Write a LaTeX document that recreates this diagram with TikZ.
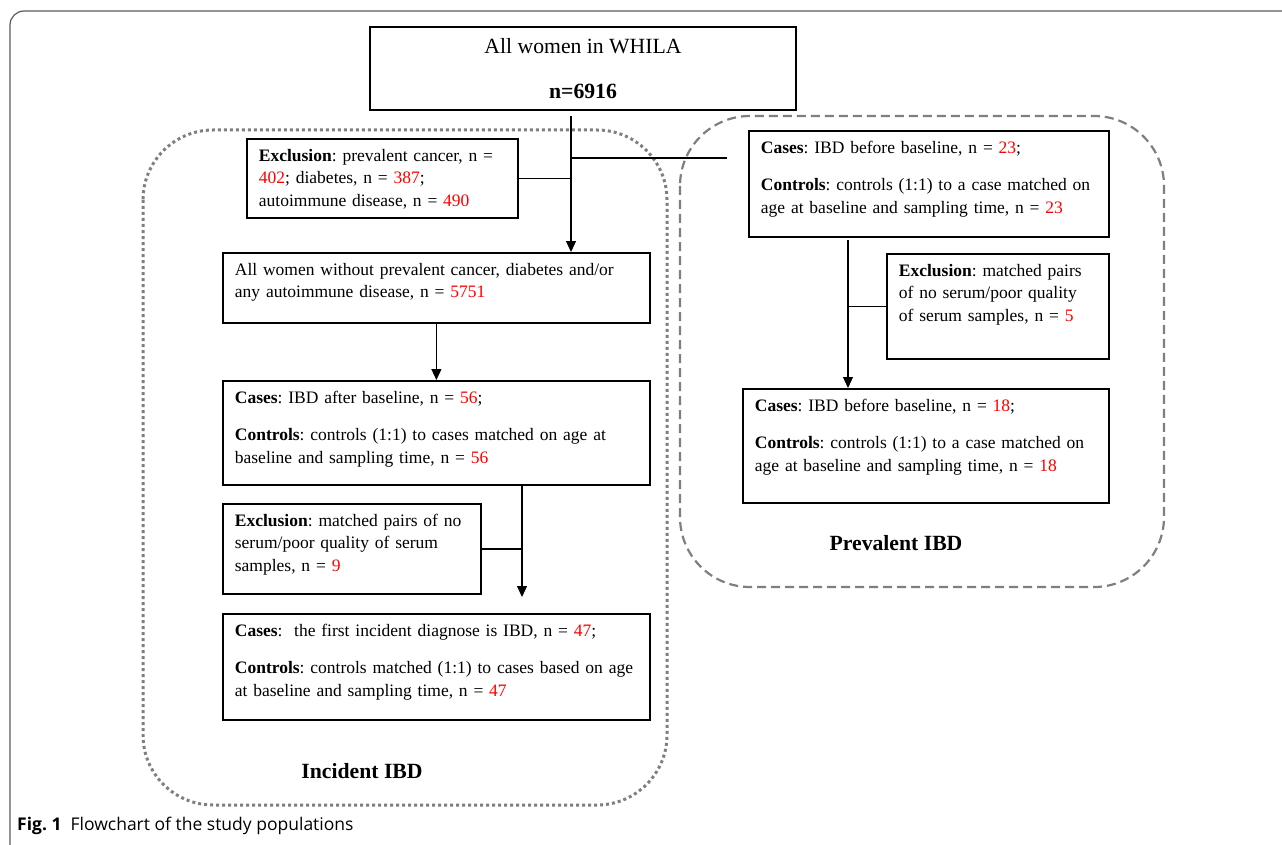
\documentclass[tikz,border=0pt]{standalone}
\usepackage{fontspec}
\setmainfont{Liberation Serif}
\newfontfamily\captionfont{Open Sans}
\usetikzlibrary{positioning, arrows.meta}
\definecolor{FrameGray}{HTML}{5A5A5A}
\definecolor{GroupGray}{HTML}{7F7F7F}
\definecolor{CountRed}{HTML}{FF0000}
\newcommand{\cnt}[1]{\textcolor{CountRed}{#1}}
\frenchspacing

\begin{document}
\begin{tikzpicture}[x=1pt, y=-1pt,
    box/.style={draw, line width=1.8pt, anchor=north west, align=left,
      inner xsep=12pt, inner ysep=10pt, font=\fontsize{17.5}{22.5}\selectfont},
    flow/.style={line width=1.2pt},
    arrow/.style={flow, -{Triangle[length=11pt, width=10pt]}},
    group/.style={GroupGray, rounded corners=70pt},
    grouplabel/.style={font=\fontsize{21.7}{26}\selectfont\bfseries}]
  \useasboundingbox (0,0) rectangle (1282,845);

  % Frame
  \draw[FrameGray, line width=1.2pt, rounded corners=14pt] (10,845) |- (1282,11);

  % Groups
  \draw[group, line width=3pt, dash pattern=on 3pt off 3pt] (143,130) rectangle (667,805);
  \draw[group, line width=2.2pt, dash pattern=on 9pt off 5pt] (680,116) rectangle (1164,587);

  % Flow
  \node[draw, line width=1.8pt, minimum width=426pt, minimum height=83pt, align=center,
    font=\fontsize{21.7}{26}\selectfont] (allWomen) at (583,68.5)
    {All women in WHILA\\[19pt]\textbf{n=6916}};
  \node[box, text width=247pt, text depth=47pt] (exclBase) at (246,138)
    {\textbf{Exclusion}: prevalent cancer, n =\\ \cnt{402}; diabetes, n = \cnt{387};\\ autoimmune disease, n = \cnt{490}};
  \node[box, text width=403pt, text depth=38pt] (noDisease) at (222,252)
    {All women without prevalent cancer, diabetes and/or\\ any autoimmune disease, n = \cnt{5751}};
  \node[box, text width=403pt, text depth=72pt] (casesInc) at (222,380)
    {\textbf{Cases}: IBD after baseline, n = \cnt{56};\\[15pt]
     \textbf{Controls}: controls (1:1) to cases matched on age at\\ baseline and sampling time, n = \cnt{56}};
  \node[box, text width=234pt, text depth=58pt] (exclPairs) at (222,503)
    {\textbf{Exclusion}: matched pairs of no\\ serum/poor quality of serum\\ samples, n = \cnt{9}};
  \node[box, text width=403pt, text depth=74pt] (finalInc) at (222,613)
    {\textbf{Cases}:\ \ the first incident diagnose is IBD, n = \cnt{47};\\[15pt]
     \textbf{Controls}: controls matched (1:1) to cases based on age\\ at baseline and sampling time, n = \cnt{47}};

  \node[box, text width=336pt, text depth=74pt] (casesPrev) at (748,130)
    {\textbf{Cases}: IBD before baseline, n = \cnt{23};\\[15pt]
     \textbf{Controls}: controls (1:1) to a case matched on\\ age at baseline and sampling time, n = \cnt{23}};
  \node[box, text width=198pt, text depth=73pt] (exclPrev) at (886,253)
    {\textbf{Exclusion}: matched pairs\\ of no serum/poor quality\\ of serum samples, n = \cnt{5}};
  \node[box, text width=342pt, text depth=82pt] (finalPrev) at (742,388)
    {\textbf{Cases}: IBD before baseline, n = \cnt{18};\\[15pt]
     \textbf{Controls}: controls (1:1) to a case matched on\\ age at baseline and sampling time, n = \cnt{18}};

  \coordinate (trunk) at (571,116);
  \coordinate (toPrev) at (727,158);
  \coordinate (tipInc) at (522,597);
  \coordinate (trunkPrev) at (848,240);

  \draw[arrow] (trunk) -- (trunk |- noDisease.north);
  \draw[flow] (trunk |- exclBase.east) -- (exclBase.east);
  \draw[flow] (trunk |- toPrev) -- (toPrev);
  \draw[arrow] (noDisease.south) -- (casesInc.north);
  \draw[arrow] (casesInc.south -| tipInc) -- (tipInc);
  \draw[flow] (exclPairs.east) -- (exclPairs.east -| tipInc);
  \draw[arrow] (trunkPrev) -- (trunkPrev |- finalPrev.north);
  \draw[flow] (trunkPrev |- exclPrev.west) -- (exclPrev.west);

  % Labels
  \node[grouplabel] (incLabel) at (362,771) {Incident IBD};
  \node[grouplabel] (prevLabel) at (896,543) {Prevalent IBD};
  \node[anchor=west, inner sep=0pt, font=\captionfont\fontsize{17.5}{20}\selectfont] (caption) at (17,826)
    {\textbf{Fig. 1}\ \ Flowchart of the study populations};
\end{tikzpicture}
\end{document}
